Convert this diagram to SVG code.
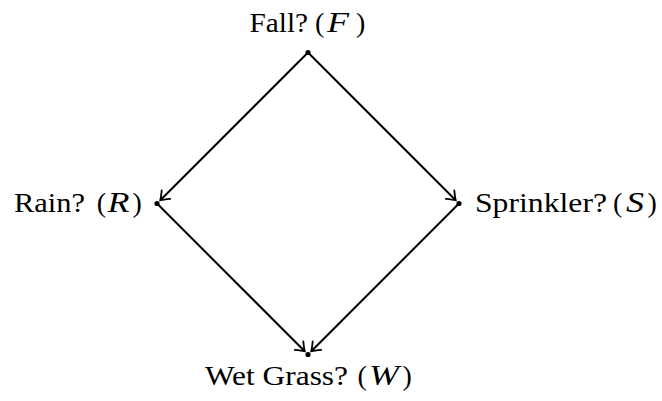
<svg xmlns="http://www.w3.org/2000/svg" width="662" height="401" viewBox="0 0 662 401">
  <style>
    text { font-family: "Liberation Serif", "Times New Roman", serif; font-size: 28px; fill: #000; }
    .m { font-style: italic; font-size: 30px; text-anchor: middle; }
    .edge { stroke: #000; stroke-width: 2; fill: none; }
    .dot { fill: #000; }
  </style>
  <defs>
    <marker id="arr" viewBox="-10 -8 12 16" refX="0" refY="0" markerWidth="12" markerHeight="16" markerUnits="userSpaceOnUse" orient="auto">
      <path d="M -8 -6 Q -2.5 -1.5 0 0 Q -2.5 1.5 -8 6" fill="none" stroke="#000" stroke-width="1.8" stroke-linecap="round"/>
    </marker>
  </defs>
  <rect width="662" height="401" fill="#fff"/>
  <g id="connectors">
    <line class="edge" x1="308" y1="52.5" x2="160.3" y2="200.2" marker-end="url(#arr)"/>
    <line class="edge" x1="308" y1="52.5" x2="455.7" y2="200.2" marker-end="url(#arr)"/>
    <line class="edge" x1="157" y1="203.5" x2="304.7" y2="351.2" marker-end="url(#arr)"/>
    <line class="edge" x1="459" y1="203.5" x2="311.3" y2="351.2" marker-end="url(#arr)"/>
  </g>
  <g id="node-F">
    <circle class="dot" cx="308" cy="52.5" r="2.6"/>
    <text x="249.5" y="31.5" textLength="58.5" lengthAdjust="spacingAndGlyphs">Fall?</text>
    <text x="315" y="31.5">(</text>
    <text class="m" x="338" y="31.5" textLength="22" lengthAdjust="spacingAndGlyphs">F</text>
    <text x="356" y="31.5">)</text>
  </g>
  <g id="node-R">
    <circle class="dot" cx="157" cy="203.5" r="2.6"/>
    <text x="14" y="211.5" textLength="71" lengthAdjust="spacingAndGlyphs">Rain?</text>
    <text x="96.7" y="211.5">(</text>
    <text class="m" x="118.5" y="211.5" textLength="22" lengthAdjust="spacingAndGlyphs">R</text>
    <text x="132.5" y="211.5">)</text>
  </g>
  <g id="node-S">
    <circle class="dot" cx="459" cy="203.5" r="2.6"/>
    <text x="475" y="211.5" textLength="132" lengthAdjust="spacingAndGlyphs">Sprinkler?</text>
    <text x="613" y="211.5">(</text>
    <text class="m" x="635" y="211.5" textLength="18" lengthAdjust="spacingAndGlyphs">S</text>
    <text x="647.5" y="211.5">)</text>
  </g>
  <g id="node-W">
    <circle class="dot" cx="308" cy="354.5" r="2.6"/>
    <text x="205" y="385" textLength="143" lengthAdjust="spacingAndGlyphs">Wet Grass?</text>
    <text x="357.5" y="385">(</text>
    <text class="m" x="384" y="385" textLength="30" lengthAdjust="spacingAndGlyphs">W</text>
    <text x="402.5" y="385">)</text>
  </g>
</svg>
